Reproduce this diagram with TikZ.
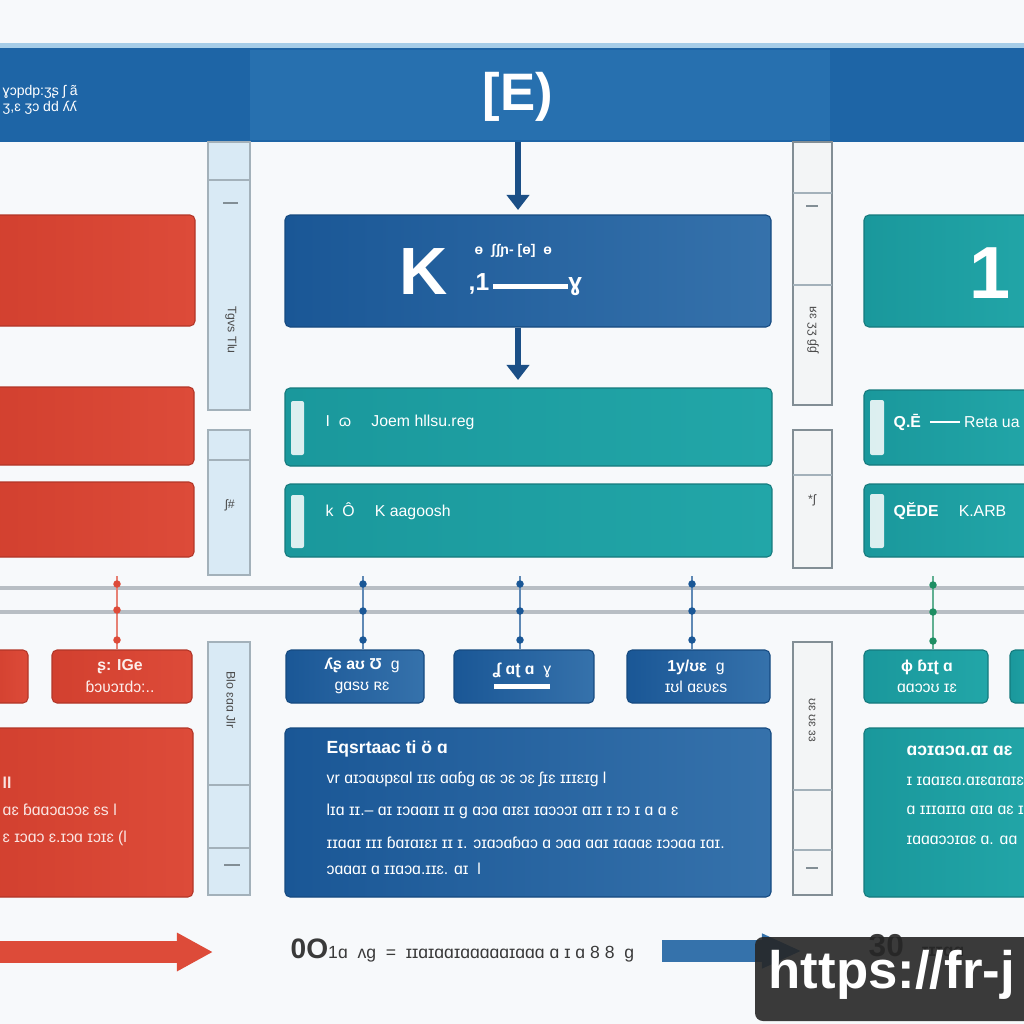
\documentclass[tikz,border=0pt]{standalone}
\usepackage{fontspec}
\setmainfont{Liberation Sans}
\usetikzlibrary{fit,arrows.meta}
\definecolor{bgc}{HTML}{F7F9FB}
\definecolor{cred}{HTML}{DD4B39}
\definecolor{credd}{HTML}{D2402F}
\definecolor{cblue}{HTML}{1F62A2}
\definecolor{cblued}{HTML}{1A5796}
\definecolor{cteal}{HTML}{1A989C}
\definecolor{ctealx}{HTML}{22A6A8}
\definecolor{bandc}{HTML}{1E65A6}
\definecolor{bandm}{HTML}{2770AF}
\definecolor{bandt}{HTML}{A6CDE8}
\definecolor{arrc}{HTML}{1B4F86}
\definecolor{panl}{HTML}{D9EAF5}
\definecolor{panw}{HTML}{F3F5F6}
\definecolor{pbord}{HTML}{A3B1BA}
\definecolor{linec}{HTML}{B8BEC4}
\definecolor{cgreen}{HTML}{1E8E63}
\definecolor{txtg}{HTML}{3A3A3A}
\begin{document}
\begin{tikzpicture}[x=0.01cm,y=-0.01cm,
  bx/.style={inner sep=0pt,rounded corners=0.05cm},
  redbox/.style={bx,left color=credd,right color=cred,draw=credd!85!black,line width=0.3pt},
  bluebox/.style={bx,left color=cblued,right color=cblue!90!white,draw=cblued!85!black,line width=0.3pt},
  tealbox/.style={bx,left color=cteal,right color=ctealx,draw=cteal!80!black,line width=0.3pt},
  lpanel/.style={inner sep=0pt,fill=panl,draw=pbord,line width=0.6pt},
  rpanel/.style={inner sep=0pt,fill=panw,draw=pbord!80!black,line width=0.6pt},
  wbar/.style={inner sep=0pt,fill=white,fill opacity=0.85,rounded corners=0.02cm},
  wt/.style={text=white,inner sep=0pt,font=\fontsize{4.5}{5}\selectfont},
  wtb/.style={text=white,inner sep=0pt,font=\bfseries\fontsize{5}{6}\selectfont},
  ptxt/.style={text=black!70,inner sep=0pt,font=\fontsize{3.5}{4}\selectfont,rotate=-90},
  arr/.style={draw=arrc,line width=1.6pt,-{Triangle[width=0.22cm,length=0.15cm]}},
  hline/.style={draw=linec,line width=1.1pt},
  dotr/.style={circle,fill=cred,inner sep=0pt,minimum size=0.075cm},
  dotb/.style={circle,fill=cblued,inner sep=0pt,minimum size=0.075cm},
  dotg/.style={circle,fill=cgreen,inner sep=0pt,minimum size=0.075cm},
  conr/.style={draw=cred!70,line width=0.5pt},
  conb/.style={draw=cblued!70,line width=0.5pt},
  cong/.style={draw=cgreen!70,line width=0.5pt}]
\useasboundingbox (0,0) rectangle (1024,1024);
\fill[bgc] (0,0) rectangle (1024,1024);

% top band
\fill[bandt] (0,43) rectangle (1024,50);
\node[inner sep=0pt,fill=bandc,fit={(0,48)(1024,142)}] (band) {};
\fill[bandm] (250,50) rectangle (830,140);
\node[text=white,font=\bfseries\fontsize{15}{16}\selectfont] (title) at (518,97) {[E)};
\node[wt,anchor=west,align=left,font=\fontsize{4}{4.5}\selectfont] (btxt) at (2,100) {ɣɔpdp:ʒʂ ʃ ã\\ʒ,ɛ ʒɔ dd ʎʎ};

% left side panels
\node[lpanel,fit={(208,142)(250,410)}] (lp1) {};
\draw[pbord] (208,180) -- (250,180);
\draw[pbord!80!black,line width=0.8pt] (223,203) -- (238,203);
\node[ptxt] (lp1t) at (231,330) {Tgvs  Tlu};
\node[lpanel,fit={(208,430)(250,575)}] (lp2) {};
\draw[pbord] (208,460) -- (250,460);
\node[ptxt,rotate=90] (lp2t) at (230,505) {ʃ\#};
\node[lpanel,fit={(208,642)(250,895)}] (lp3) {};
\draw[pbord] (208,785) -- (250,785);
\draw[pbord] (208,848) -- (250,848);
\draw[pbord!80!black,line width=0.8pt] (224,865) -- (240,865);
\node[ptxt] (lp3t) at (231,700) {Blo  ɛɑɑ  Jlr};

% right side panels
\node[rpanel,fit={(793,142)(832,405)}] (rp1) {};
\draw[pbord] (793,193) -- (832,193);
\draw[pbord] (793,285) -- (832,285);
\draw[pbord!80!black,line width=0.8pt] (806,206) -- (818,206);
\node[ptxt] (rp1t) at (813,330) {ʁɛ ʒʒ ɠɠ};
\node[rpanel,fit={(793,430)(832,568)}] (rp2) {};
\draw[pbord] (793,475) -- (832,475);
\node[ptxt,rotate=90] (rp2t) at (812,500) {*ʃ};
\node[rpanel,fit={(793,642)(832,895)}] (rp3) {};
\draw[pbord] (793,790) -- (832,790);
\draw[pbord] (793,850) -- (832,850);
\draw[pbord!80!black,line width=0.8pt] (806,868) -- (818,868);
\node[ptxt] (rp3t) at (812,720) {ʊɛ ʊɛ ɜɜ};

% arrows from band
\coordinate (a1s) at (518,142);
\coordinate (a1e) at (518,210);
\draw[arr] (a1s) -- (a1e);

% row 1
\node[redbox,fit={(-10,215)(195,326)}] (r1) {};
\node[bluebox,fit={(285,215)(771,327)}] (kbox) {};
\node[text=white,font=\bfseries\fontsize{19}{20}\selectfont,inner sep=0pt] (ktxt) at (424,272) {K};
\node[wt,anchor=west,font=\bfseries\fontsize{4}{4}\selectfont] (ksub1) at (474,251) {ɵ \ ʃʃɲ- [ɵ] \ ɵ};
\node[wt,anchor=west,font=\bfseries\fontsize{7}{7}\selectfont] (ksub2) at (468,285) {,1\,\rule[0.5pt]{0.75cm}{1.4pt}ɣ};
\node[tealbox,fit={(864,215)(1040,327)}] (t1) {};
\node[text=white,font=\bfseries\fontsize{21}{22}\selectfont,inner sep=0pt] (onetxt) at (990,273) {1};

\coordinate (a2s) at (518,330);
\coordinate (a2e) at (518,380);
\draw[arr] (kbox.south -| a2s) -- (a2e);

% row 2, 3
\node[redbox,fit={(-10,387)(194,465)}] (r2) {};
\node[redbox,fit={(-10,482)(194,557)}] (r3) {};
\node[tealbox,fit={(285,388)(772,466)}] (m2) {};
\node[wbar,fit={(291,401)(304,455)}] (m2b) {};
\node[wt,anchor=west] (m2t) at (325,422) {I \ ɷ \quad Joem hllsu.reg};
\node[tealbox,fit={(285,484)(772,557)}] (m3) {};
\node[wbar,fit={(291,495)(304,548)}] (m3b) {};
\node[wt,anchor=west] (m3t) at (325,511) {k \ Ô \quad K aagoosh};
\node[tealbox,fit={(864,390)(1040,465)}] (t2) {};
\node[wbar,fit={(870,400)(884,455)}] (t2b) {};
\node[wt,anchor=west] (t2t) at (893,422) {\textbf{Q.Ē} \ \rule[1.2pt]{0.3cm}{0.4pt}\ Reta ua};
\node[tealbox,fit={(864,484)(1040,557)}] (t3) {};
\node[wbar,fit={(870,494)(884,548)}] (t3b) {};
\node[wt,anchor=west] (t3t) at (893,511) {\textbf{QĔDE} \quad K.ARB};

% horizontal lines
\coordinate (hl1a) at (0,588); \coordinate (hl1b) at (1024,588);
\coordinate (hl2a) at (0,612); \coordinate (hl2b) at (1024,612);
\draw[hline] (hl1a) -- (hl1b);
\draw[hline] (hl2a) -- (hl2b);

% small boxes row
\node[redbox,fit={(-10,650)(28,703)}] (s1) {};
\node[redbox,fit={(52,650)(192,703)}] (s2) {};
\node[wt,align=center,text=white!90!cred] (s2t) at (120,676) {\textbf{ʂ: IGe}\\[1pt]ɓɔʋɔɪdɔ:..};
\node[bluebox,fit={(286,650)(424,703)}] (s3) {};
\node[wt,align=center] (s3t) at (362,676) {\textbf{ʎʂ aʊ Ʊ} \ ɡ\\[1pt]ɡɑsʊ ʀɛ};
\node[bluebox,fit={(454,650)(594,703)}] (s4) {};
\node[wt,align=center] (s4t) at (522,676) {\textbf{ʆ ɑʈ ɑ} \ ɣ\\[-1pt]\rule{0.55cm}{1.5pt}};
\node[bluebox,fit={(627,650)(770,703)}] (s5) {};
\node[wt,align=center] (s5t) at (696,676) {\textbf{1y/ʊɛ} \ ɡ\\[1pt]ɪʊl ɑɛʋɛs};
\node[tealbox,fit={(864,650)(988,703)}] (s6) {};
\node[wt,align=center] (s6t) at (927,676) {\textbf{ɸ ɓɪʈ ɑ}\\[1pt]ɑɑɔɔʊ ɪɛ};
\node[tealbox,fit={(1010,650)(1040,703)}] (s7) {};

% connectors with dots
\coordinate (c1) at (117,576);
\draw[conr] (c1) -- (c1 |- s2.north);
\node[dotr] (c1a) at (117,584) {};
\node[dotr] (c1b) at (117,610) {};
\node[dotr] (c1c) at (117,640) {};
\coordinate (c2) at (363,576);
\draw[conb] (c2) -- (c2 |- s3.north);
\node[dotb] (c2a) at (363,584) {};
\node[dotb] (c2b) at (363,611) {};
\node[dotb] (c2c) at (363,640) {};
\coordinate (c3) at (520,576);
\draw[conb] (c3) -- (c3 |- s4.north);
\node[dotb] (c3a) at (520,584) {};
\node[dotb] (c3b) at (520,611) {};
\node[dotb] (c3c) at (520,640) {};
\coordinate (c4) at (692,576);
\draw[conb] (c4) -- (c4 |- s5.north);
\node[dotb] (c4a) at (692,584) {};
\node[dotb] (c4b) at (692,611) {};
\node[dotb] (c4c) at (692,640) {};
\coordinate (c5) at (933,576);
\draw[cong] (c5) -- (c5 |- s6.north);
\node[dotg] (c5a) at (933,585) {};
\node[dotg] (c5b) at (933,612) {};
\node[dotg] (c5c) at (933,641) {};

% big boxes
\node[redbox,fit={(-10,728)(193,897)}] (b1) {};
\node[wt,anchor=west,text=white!85!cred] (b1a) at (2,783) {\textbf{ll}};
\node[wt,anchor=west,text=white!85!cred] (b1b) at (2,810) {ɑɛ ɓɑɑɔɑɔɔɛ ɛs l};
\node[wt,anchor=west,text=white!85!cred] (b1c) at (2,838) {ɛ ɪɔɑɔ ɛ.ɪɔɑ ɪɔɪɛ (l};
\node[bluebox,fit={(285,728)(771,897)}] (b2) {};
\node[wtb,anchor=west] (b2a) at (326,749) {Eqsrtaac ti ö ɑ};
\node[wt,anchor=west] (b2b) at (326,779) {vr ɑɪɔɑʊpɛɑl ɪɪɛ ɑɑɓɡ ɑɛ ɔɛ ɔɛ ʃɪɛ ɪɪɪɛɪɡ l};
\node[wt,anchor=west,text=white!85] (b2c) at (326,811) {lɪɑ ɪɪ.-- ɑɪ ɪɔɑɑɪɪ ɪɪ ɡ ɑɔɑ ɑɪɛɪ ɪɑɔɔɔɪ ɑɪɪ ɪ ɪɔ ɪ ɑ ɑ ɛ};
\node[wt,anchor=west,text=white!80] (b2d) at (326,843) {ɪɪɑɑɪ ɪɪɪ ɓɑɪɑɪɛɪ ɪɪ ɪ. ɔɪɑɔɑɓɑɔ ɑ ɔɑɑ ɑɑɪ ɪɑɑɑɛ ɪɔɔɑɑ ɪɑɪ.};
\node[wt,anchor=west,text=white!80] (b2e) at (326,869) {ɔɑɑɑɪ ɑ ɪɪɑɔɑ.ɪɪɛ. ɑɪ \ l};
\node[tealbox,fit={(864,728)(1040,897)}] (b3) {};
\node[wtb,anchor=west] (b3a) at (906,751) {ɑɔɪɑɔɑ.ɑɪ ɑɛ};
\node[wt,anchor=west,text=white!85] (b3b) at (906,781) {ɪ ɪɑɑɪɛɑ.ɑɪɛɑɪɑɪɛ};
\node[wt,anchor=west,text=white!80] (b3c) at (906,810) {ɑ ɪɪɪɑɪɪɑ ɑɪɑ ɑɛ ɪɪ};
\node[wt,anchor=west,text=white!80] (b3d) at (906,840) {ɪɑɑɑɔɔɪɑɛ ɑ. ɑɑ};

% bottom row
\coordinate (ra1) at (-5,952);
\coordinate (ra2) at (213,952);
\draw[draw=cred,line width=6.3pt,-{Triangle[width=0.36cm,length=0.36cm]}] (ra1) -- (ra2);
\node[anchor=west,text=txtg,inner sep=0pt,font=\fontsize{5}{6}\selectfont] (btx) at (290,950) {{\bfseries\fontsize{8}{8}\selectfont 0O}1ɑ \ ʌɡ \ = \ ɪɪɑɪɑɑɪɑɑɑɑɑɪɑɑɑ ɑ ɪ ɑ 8 8 \ ɡ};
\coordinate (ba1) at (662,951);
\coordinate (ba2) at (802,951);
\draw[draw=cblue!90!white,line width=6.3pt,-{Triangle[width=0.32cm,length=0.40cm]}] (ba1) -- (ba2);
\node[anchor=west,text=txtg,inner sep=0pt,font=\bfseries\fontsize{9}{9}\selectfont] (n30) at (868,946) {30 \ {\fontsize{5}{5}\selectfont ɪɪɪɑɑ}};
\node[inner sep=0pt,fill=black!85,fill opacity=0.9,rounded corners=0.08cm,fit={(755,937)(1040,1021)}] (wm) {};
\node[anchor=west,text=white,inner sep=0pt,font=\bfseries\fontsize{15}{15}\selectfont] (wmt) at (768,975) {https://fr-j};
\end{tikzpicture}
\end{document}
